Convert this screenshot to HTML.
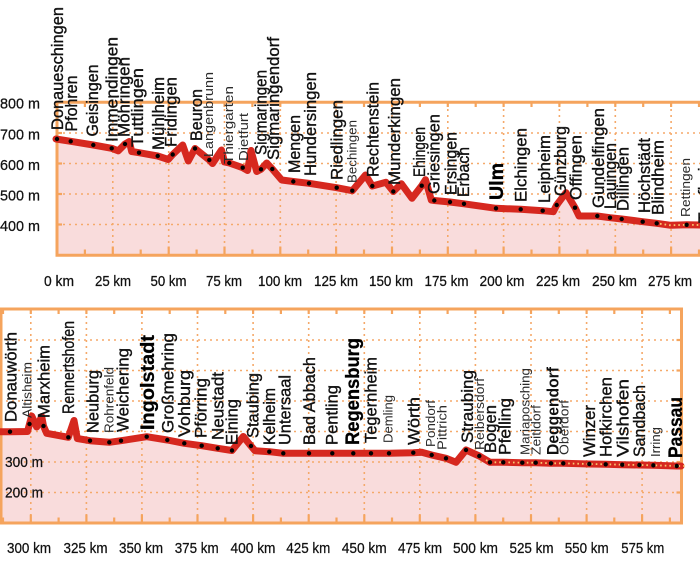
<!DOCTYPE html>
<html><head><meta charset="utf-8">
<style>
html,body{margin:0;padding:0;background:#fff;}
svg{display:block;}
text{font-family:"Liberation Sans",sans-serif;}
.m{font-size:16.5px;fill:#111;stroke:#111;stroke-width:0.35px;}
.s{font-size:13px;fill:#2a2a2a;}
.b{font-size:19px;font-weight:bold;fill:#000;stroke:#000;stroke-width:0.3px;}
.mb{font-size:16.5px;font-weight:bold;fill:#111;}
.ax{font-size:15px;fill:#111;stroke:#111;stroke-width:0.25px;}
.grid{stroke:#f5a96a;stroke-width:1.6;stroke-dasharray:2 4;fill:none;}
.frm{stroke:#f5a45d;stroke-width:3;fill:none;}
.tk{stroke:#f5a45d;stroke-width:2.2;}
.ln{fill:none;stroke:#d6281f;stroke-width:7;stroke-linejoin:round;stroke-linecap:round;}
.yl{fill:none;stroke:#f8c870;stroke-width:1.8;stroke-dasharray:1.6 3;}
</style></head><body>
<svg width="700" height="569" viewBox="0 0 700 569" xmlns="http://www.w3.org/2000/svg">

<!-- ================= TOP PANEL ================= -->
<polygon fill="#f9dcdc" points="57,139 70.7,141.3 93.3,145 111.7,148.3 118.3,150.8 125,144 129.3,141.5 131.7,151.5 139,152.7 157.7,156 168.3,159.5 172.7,154.5 182.7,145 188.3,161 195,148.5 209.3,160 212.5,163.5 221.5,150 224.5,162 229.3,163 242.7,167.7 247.5,170.5 251,150.5 256.7,171.5 261,169.3 266.7,163 272.3,169 281.7,180 293.3,181.5 309,183.3 336.7,187.7 352.3,190.7 365.5,175 372.3,186 386,182.3 393.3,191.5 401.3,183.7 412,198.3 421.7,185.7 425.5,179.7 431.3,200 434.3,200.5 450,202 464,203.8 496,208.3 520.7,209.3 542.7,210.7 553.3,211.7 556.7,205 566,192.7 575,207.7 579,216 597.3,216 610,217.7 621.7,219 642.7,221.7 656.7,223.3 670.7,225.3 686.7,224.8 700,225 700,255 57,255"/>

<g class="grid">
<line x1="57" y1="133" x2="700" y2="133"/>
<line x1="57" y1="163.5" x2="700" y2="163.5"/>
<line x1="57" y1="194" x2="700" y2="194"/>
<line x1="57" y1="224.5" x2="700" y2="224.5"/>
<line x1="112.8" y1="103" x2="112.8" y2="255"/>
<line x1="168.7" y1="103" x2="168.7" y2="255"/>
<line x1="224.5" y1="103" x2="224.5" y2="255"/>
<line x1="280.3" y1="103" x2="280.3" y2="255"/>
<line x1="336.1" y1="103" x2="336.1" y2="255"/>
<line x1="392" y1="103" x2="392" y2="255"/>
<line x1="447.8" y1="103" x2="447.8" y2="255"/>
<line x1="503.6" y1="103" x2="503.6" y2="255"/>
<line x1="559.4" y1="103" x2="559.4" y2="255"/>
<line x1="615.3" y1="103" x2="615.3" y2="255"/>
<line x1="671.1" y1="103" x2="671.1" y2="255"/>
</g>

<path class="frm" d="M700,102.2 H57 V255.3 H700"/>
<g class="tk">
<line x1="84.9" y1="102" x2="84.9" y2="107"/><line x1="112.8" y1="102" x2="112.8" y2="107"/>
<line x1="140.7" y1="102" x2="140.7" y2="107"/><line x1="168.7" y1="102" x2="168.7" y2="107"/>
<line x1="196.6" y1="102" x2="196.6" y2="107"/><line x1="224.5" y1="102" x2="224.5" y2="107"/>
<line x1="252.4" y1="102" x2="252.4" y2="107"/><line x1="280.3" y1="102" x2="280.3" y2="107"/>
<line x1="308.2" y1="102" x2="308.2" y2="107"/><line x1="336.1" y1="102" x2="336.1" y2="107"/>
<line x1="364" y1="102" x2="364" y2="107"/><line x1="392" y1="102" x2="392" y2="107"/>
<line x1="419.9" y1="102" x2="419.9" y2="107"/><line x1="447.8" y1="102" x2="447.8" y2="107"/>
<line x1="475.7" y1="102" x2="475.7" y2="107"/><line x1="503.6" y1="102" x2="503.6" y2="107"/>
<line x1="531.5" y1="102" x2="531.5" y2="107"/><line x1="559.4" y1="102" x2="559.4" y2="107"/>
<line x1="587.4" y1="102" x2="587.4" y2="107"/><line x1="615.3" y1="102" x2="615.3" y2="107"/>
<line x1="643.2" y1="102" x2="643.2" y2="107"/><line x1="671.1" y1="102" x2="671.1" y2="107"/>
<line x1="699" y1="102" x2="699" y2="107"/>

<line x1="84.9" y1="255" x2="84.9" y2="249.5"/><line x1="112.8" y1="255" x2="112.8" y2="246.5"/>
<line x1="140.7" y1="255" x2="140.7" y2="249.5"/><line x1="168.7" y1="255" x2="168.7" y2="246.5"/>
<line x1="196.6" y1="255" x2="196.6" y2="249.5"/><line x1="224.5" y1="255" x2="224.5" y2="246.5"/>
<line x1="252.4" y1="255" x2="252.4" y2="249.5"/><line x1="280.3" y1="255" x2="280.3" y2="246.5"/>
<line x1="308.2" y1="255" x2="308.2" y2="249.5"/><line x1="336.1" y1="255" x2="336.1" y2="246.5"/>
<line x1="364" y1="255" x2="364" y2="249.5"/><line x1="392" y1="255" x2="392" y2="246.5"/>
<line x1="419.9" y1="255" x2="419.9" y2="249.5"/><line x1="447.8" y1="255" x2="447.8" y2="246.5"/>
<line x1="475.7" y1="255" x2="475.7" y2="249.5"/><line x1="503.6" y1="255" x2="503.6" y2="246.5"/>
<line x1="531.5" y1="255" x2="531.5" y2="249.5"/><line x1="559.4" y1="255" x2="559.4" y2="246.5"/>
<line x1="587.4" y1="255" x2="587.4" y2="249.5"/><line x1="615.3" y1="255" x2="615.3" y2="246.5"/>
<line x1="643.2" y1="255" x2="643.2" y2="249.5"/><line x1="671.1" y1="255" x2="671.1" y2="246.5"/>
<line x1="699" y1="255" x2="699" y2="249.5"/>

<line x1="57" y1="133" x2="62" y2="133"/><line x1="57" y1="163.5" x2="62" y2="163.5"/>
<line x1="57" y1="194" x2="62" y2="194"/><line x1="57" y1="224.5" x2="62" y2="224.5"/>
</g>

<polyline class="ln" points="56,139 70.7,141.3 93.3,145 111.7,148.3 118.3,150.8 125,144 129.3,141.5 131.7,151.5 139,152.7 157.7,156 168.3,159.5 172.7,154.5 182.7,145 188.3,161 195,148.5 209.3,160 212.5,163.5 221.5,150 224.5,162 229.3,163 242.7,167.7 247.5,170.5 251,150.5 256.7,171.5 261,169.3 266.7,163 272.3,169 281.7,180 293.3,181.5 309,183.3 336.7,187.7 352.3,190.7 365.5,175 372.3,186 386,182.3 393.3,191.5 401.3,183.7 412,198.3 421.7,185.7 425.5,179.7 431.3,200 434.3,200.5 450,202 464,203.8 496,208.3 520.7,209.3 542.7,210.7 553.3,211.7 556.7,205 566,192.7 575,207.7 579,216 597.3,216 610,217.7 621.7,219 642.7,221.7 656.7,223.3 670.7,225.3 686.7,224.8 702,225"/>
<polyline class="yl" points="660,223.8 670.7,225.3 686.7,224.8 700,225"/>

<g fill="#000">
<circle cx="57" cy="139" r="2.2"/><circle cx="70.7" cy="141.3" r="2.2"/><circle cx="93.3" cy="145" r="2.2"/>
<circle cx="111.7" cy="148.3" r="2.2"/><circle cx="125" cy="144" r="2.2"/><circle cx="139" cy="152.7" r="2.2"/>
<circle cx="157.7" cy="156" r="2.2"/><circle cx="172.7" cy="154.5" r="2.2"/><circle cx="195" cy="148.5" r="2.2"/>
<circle cx="209.3" cy="160" r="2.2"/><circle cx="229.3" cy="163" r="2.2"/><circle cx="242.7" cy="167.7" r="2.2"/>
<circle cx="261" cy="169.3" r="2.2"/><circle cx="272.3" cy="169" r="2.2"/><circle cx="293.3" cy="181.5" r="2.2"/>
<circle cx="309" cy="183.3" r="2.2"/><circle cx="336.7" cy="187.7" r="2.2"/><circle cx="352.3" cy="190.7" r="2.2"/>
<circle cx="372.3" cy="186" r="2.2"/><circle cx="393.3" cy="191.5" r="2.2"/><circle cx="421.7" cy="185.7" r="2.2"/>
<circle cx="434.3" cy="200.5" r="2.2"/><circle cx="450" cy="202" r="2.2"/><circle cx="464" cy="203.8" r="2.2"/>
<circle cx="496" cy="208.3" r="2.2"/><circle cx="520.7" cy="209.3" r="2.2"/><circle cx="542.7" cy="210.7" r="2.2"/>
<circle cx="556.7" cy="205" r="2.2"/><circle cx="575" cy="207.7" r="2.2"/><circle cx="597.3" cy="216" r="2.2"/>
<circle cx="610" cy="217.7" r="2.2"/><circle cx="621.7" cy="219" r="2.2"/><circle cx="642.7" cy="221.7" r="2.2"/>
<circle cx="656.7" cy="223.3" r="2.2"/><circle cx="686.7" cy="224.8" r="2.2"/>
</g>

<text class="ax" x="0" y="108.5" textLength="40" lengthAdjust="spacingAndGlyphs">800 m</text>
<text class="ax" x="0" y="139.3" textLength="40" lengthAdjust="spacingAndGlyphs">700 m</text>
<text class="ax" x="0" y="170" textLength="40" lengthAdjust="spacingAndGlyphs">600 m</text>
<text class="ax" x="0" y="200.5" textLength="40" lengthAdjust="spacingAndGlyphs">500 m</text>
<text class="ax" x="0" y="231" textLength="40" lengthAdjust="spacingAndGlyphs">400 m</text>

<g text-anchor="middle">
<text class="ax" x="59" y="286" textLength="30" lengthAdjust="spacingAndGlyphs">0 km</text>
<text class="ax" x="113" y="286" textLength="36" lengthAdjust="spacingAndGlyphs">25 km</text>
<text class="ax" x="168.5" y="286" textLength="36" lengthAdjust="spacingAndGlyphs">50 km</text>
<text class="ax" x="224" y="286" textLength="36" lengthAdjust="spacingAndGlyphs">75 km</text>
<text class="ax" x="280" y="286" textLength="44" lengthAdjust="spacingAndGlyphs">100 km</text>
<text class="ax" x="336" y="286" textLength="44" lengthAdjust="spacingAndGlyphs">125 km</text>
<text class="ax" x="391" y="286" textLength="44" lengthAdjust="spacingAndGlyphs">150 km</text>
<text class="ax" x="446.5" y="286" textLength="44" lengthAdjust="spacingAndGlyphs">175 km</text>
<text class="ax" x="502" y="286" textLength="45" lengthAdjust="spacingAndGlyphs">200 km</text>
<text class="ax" x="558" y="286" textLength="44" lengthAdjust="spacingAndGlyphs">225 km</text>
<text class="ax" x="614.5" y="286" textLength="45" lengthAdjust="spacingAndGlyphs">250 km</text>
<text class="ax" x="670" y="286" textLength="44" lengthAdjust="spacingAndGlyphs">275 km</text>
</g>

<text class="m" transform="translate(63,130) rotate(-90)" textLength="123" lengthAdjust="spacingAndGlyphs">Donaueschingen</text>
<text class="m" transform="translate(77,131.5) rotate(-90)" textLength="56" lengthAdjust="spacingAndGlyphs">Pfohren</text>
<text class="m" transform="translate(98,136.5) rotate(-90)" textLength="72" lengthAdjust="spacingAndGlyphs">Geisingen</text>
<text class="m" transform="translate(117.5,142) rotate(-90)" textLength="105" lengthAdjust="spacingAndGlyphs">Immendingen</text>
<text class="m" transform="translate(129.5,137) rotate(-90)" textLength="80" lengthAdjust="spacingAndGlyphs">Möhringen</text>
<text class="m" transform="translate(143,147) rotate(-90)" textLength="79" lengthAdjust="spacingAndGlyphs">Tuttlingen</text>
<text class="m" transform="translate(164,150) rotate(-90)" textLength="73" lengthAdjust="spacingAndGlyphs">Mühlheim</text>
<text class="m" transform="translate(176.5,147) rotate(-90)" textLength="70" lengthAdjust="spacingAndGlyphs">Fridingen</text>
<text class="m" transform="translate(202,141) rotate(-90)" textLength="52" lengthAdjust="spacingAndGlyphs">Beuron</text>
<text class="s" transform="translate(213,157) rotate(-90)" textLength="85" lengthAdjust="spacingAndGlyphs">Langenbrunn</text>
<text class="s" transform="translate(233,164) rotate(-90)" textLength="78" lengthAdjust="spacingAndGlyphs">Thiergarten</text>
<text class="s" transform="translate(248,161) rotate(-90)" textLength="48" lengthAdjust="spacingAndGlyphs">Dietfurt</text>
<text class="m" transform="translate(266.5,155) rotate(-90)" textLength="85" lengthAdjust="spacingAndGlyphs">Sigmaringen</text>
<text class="m" transform="translate(279,160) rotate(-90)" textLength="123" lengthAdjust="spacingAndGlyphs">Sigmaringendorf</text>
<text class="m" transform="translate(300,173) rotate(-90)" textLength="58" lengthAdjust="spacingAndGlyphs">Mengen</text>
<text class="m" transform="translate(316,176) rotate(-90)" textLength="104" lengthAdjust="spacingAndGlyphs">Hundersingen</text>
<text class="m" transform="translate(342.5,180) rotate(-90)" textLength="80" lengthAdjust="spacingAndGlyphs">Riedlingen</text>
<text class="s" transform="translate(356.5,183) rotate(-90)" textLength="63" lengthAdjust="spacingAndGlyphs">Bechingen</text>
<text class="m" transform="translate(378.3,177) rotate(-90)" textLength="95" lengthAdjust="spacingAndGlyphs">Rechtenstein</text>
<text class="m" transform="translate(400,185) rotate(-90)" textLength="107" lengthAdjust="spacingAndGlyphs">Munderkingen</text>
<text class="m" transform="translate(425,177) rotate(-90)" textLength="50" lengthAdjust="spacingAndGlyphs">Ehingen</text>
<text class="m" transform="translate(439.3,194) rotate(-90)" textLength="80" lengthAdjust="spacingAndGlyphs">Griesingen</text>
<text class="m" transform="translate(456.7,195) rotate(-90)" textLength="63" lengthAdjust="spacingAndGlyphs">Ersingen</text>
<text class="m" transform="translate(469,197) rotate(-90)" textLength="50" lengthAdjust="spacingAndGlyphs">Erbach</text>
<text class="b" transform="translate(503,200) rotate(-90)" textLength="37" lengthAdjust="spacingAndGlyphs">Ulm</text>
<text class="m" transform="translate(526.7,202) rotate(-90)" textLength="74" lengthAdjust="spacingAndGlyphs">Elchingen</text>
<text class="m" transform="translate(550,203) rotate(-90)" textLength="68" lengthAdjust="spacingAndGlyphs">Leipheim</text>
<text class="m" transform="translate(566,196) rotate(-90)" textLength="70" lengthAdjust="spacingAndGlyphs">Günzburg</text>
<text class="m" transform="translate(581.7,200) rotate(-90)" textLength="65" lengthAdjust="spacingAndGlyphs">Offingen</text>
<text class="m" transform="translate(604,208) rotate(-90)" textLength="100" lengthAdjust="spacingAndGlyphs">Gundelfingen</text>
<text class="m" transform="translate(616,209) rotate(-90)" textLength="66" lengthAdjust="spacingAndGlyphs">Lauingen</text>
<text class="m" transform="translate(628.3,211) rotate(-90)" textLength="64" lengthAdjust="spacingAndGlyphs">Dillingen</text>
<text class="m" transform="translate(650,213) rotate(-90)" textLength="75" lengthAdjust="spacingAndGlyphs">Höchstädt</text>
<text class="m" transform="translate(663.3,215) rotate(-90)" textLength="75" lengthAdjust="spacingAndGlyphs">Blindheim</text>
<text class="s" transform="translate(690,217) rotate(-90)" textLength="59" lengthAdjust="spacingAndGlyphs">Rettingen</text>
<text class="m" transform="translate(710,223) rotate(-90)" textLength="70" lengthAdjust="spacingAndGlyphs">Tapfheim</text>

<!-- ================= BOTTOM PANEL ================= -->
<polygon fill="#f9dcdc" points="0,431.7 10,431.7 27.5,431.5 29.5,424 31.7,416 36.7,427 41.7,416.5 43.5,426 46.7,433.3 68.3,437.3 74,420.5 77.3,438.5 90,440.7 109.3,442.3 121,440.7 146.7,436.7 167.3,440 184.3,443.3 201.7,445.7 217.7,448.3 232,450.5 243.3,436.5 251,446 255,450.7 269.3,451.7 283.3,453.3 309,453.3 332.3,453.3 353.3,453.3 371,453.3 389,453.3 413.3,452.7 421.7,452.3 431.7,455 446,458.3 456,462.3 466,450 479.3,456 490,462.3 503.3,462.3 522.3,462.7 535.7,462.7 551,463.3 563.3,463.3 589.3,464 605.7,464.3 622.3,464.7 639.3,465 653.3,465.3 676.7,466 681.5,466 681.5,523 0,523"/>

<g class="grid">
<line x1="0" y1="340" x2="681.5" y2="340"/>
<line x1="0" y1="370.5" x2="681.5" y2="370.5"/>
<line x1="0" y1="401" x2="681.5" y2="401"/>
<line x1="0" y1="431.5" x2="681.5" y2="431.5"/>
<line x1="0" y1="462" x2="681.5" y2="462"/>
<line x1="0" y1="492.5" x2="681.5" y2="492.5"/>
<line x1="30.8" y1="310" x2="30.8" y2="523"/>
<line x1="86.4" y1="310" x2="86.4" y2="523"/>
<line x1="141.9" y1="310" x2="141.9" y2="523"/>
<line x1="197.5" y1="310" x2="197.5" y2="523"/>
<line x1="253.1" y1="310" x2="253.1" y2="523"/>
<line x1="308.7" y1="310" x2="308.7" y2="523"/>
<line x1="364.3" y1="310" x2="364.3" y2="523"/>
<line x1="419.8" y1="310" x2="419.8" y2="523"/>
<line x1="475.4" y1="310" x2="475.4" y2="523"/>
<line x1="531" y1="310" x2="531" y2="523"/>
<line x1="586.6" y1="310" x2="586.6" y2="523"/>
<line x1="642.1" y1="310" x2="642.1" y2="523"/>
</g>

<path class="frm" d="M1,309 H681.5 V523 H1 Z"/>
<g class="tk">
<line x1="3" y1="309" x2="3" y2="314"/><line x1="30.8" y1="309" x2="30.8" y2="314"/>
<line x1="58.6" y1="309" x2="58.6" y2="314"/><line x1="86.4" y1="309" x2="86.4" y2="314"/>
<line x1="114.2" y1="309" x2="114.2" y2="314"/><line x1="141.9" y1="309" x2="141.9" y2="314"/>
<line x1="169.7" y1="309" x2="169.7" y2="314"/><line x1="197.5" y1="309" x2="197.5" y2="314"/>
<line x1="225.3" y1="309" x2="225.3" y2="314"/><line x1="253.1" y1="309" x2="253.1" y2="314"/>
<line x1="280.9" y1="309" x2="280.9" y2="314"/><line x1="308.7" y1="309" x2="308.7" y2="314"/>
<line x1="336.5" y1="309" x2="336.5" y2="314"/><line x1="364.3" y1="309" x2="364.3" y2="314"/>
<line x1="392" y1="309" x2="392" y2="314"/><line x1="419.8" y1="309" x2="419.8" y2="314"/>
<line x1="447.6" y1="309" x2="447.6" y2="314"/><line x1="475.4" y1="309" x2="475.4" y2="314"/>
<line x1="503.2" y1="309" x2="503.2" y2="314"/><line x1="531" y1="309" x2="531" y2="314"/>
<line x1="558.8" y1="309" x2="558.8" y2="314"/><line x1="586.6" y1="309" x2="586.6" y2="314"/>
<line x1="614.3" y1="309" x2="614.3" y2="314"/><line x1="642.1" y1="309" x2="642.1" y2="314"/>
<line x1="669.9" y1="309" x2="669.9" y2="314"/>

<line x1="3" y1="523" x2="3" y2="517.5"/>
<line x1="30.8" y1="523" x2="30.8" y2="514.5"/><line x1="58.6" y1="523" x2="58.6" y2="517.5"/>
<line x1="86.4" y1="523" x2="86.4" y2="514.5"/><line x1="114.2" y1="523" x2="114.2" y2="517.5"/>
<line x1="141.9" y1="523" x2="141.9" y2="514.5"/><line x1="169.7" y1="523" x2="169.7" y2="517.5"/>
<line x1="197.5" y1="523" x2="197.5" y2="514.5"/><line x1="225.3" y1="523" x2="225.3" y2="517.5"/>
<line x1="253.1" y1="523" x2="253.1" y2="514.5"/><line x1="280.9" y1="523" x2="280.9" y2="517.5"/>
<line x1="308.7" y1="523" x2="308.7" y2="514.5"/><line x1="336.5" y1="523" x2="336.5" y2="517.5"/>
<line x1="364.3" y1="523" x2="364.3" y2="514.5"/><line x1="392" y1="523" x2="392" y2="517.5"/>
<line x1="419.8" y1="523" x2="419.8" y2="514.5"/><line x1="447.6" y1="523" x2="447.6" y2="517.5"/>
<line x1="475.4" y1="523" x2="475.4" y2="514.5"/><line x1="503.2" y1="523" x2="503.2" y2="517.5"/>
<line x1="531" y1="523" x2="531" y2="514.5"/><line x1="558.8" y1="523" x2="558.8" y2="517.5"/>
<line x1="586.6" y1="523" x2="586.6" y2="514.5"/><line x1="614.3" y1="523" x2="614.3" y2="517.5"/>
<line x1="642.1" y1="523" x2="642.1" y2="514.5"/><line x1="669.9" y1="523" x2="669.9" y2="517.5"/>

<line x1="681.5" y1="340" x2="676.5" y2="340"/><line x1="681.5" y1="370.5" x2="676.5" y2="370.5"/>
<line x1="681.5" y1="401" x2="676.5" y2="401"/><line x1="681.5" y1="431.5" x2="676.5" y2="431.5"/>
<line x1="681.5" y1="462" x2="676.5" y2="462"/><line x1="681.5" y1="492.5" x2="676.5" y2="492.5"/>
</g>

<polyline class="ln" points="-2,431.7 10,431.7 27.5,431.5 29.5,424 31.7,416 36.7,427 41.7,416.5 43.5,426 46.7,433.3 68.3,437.3 74,420.5 77.3,438.5 90,440.7 109.3,442.3 121,440.7 146.7,436.7 167.3,440 184.3,443.3 201.7,445.7 217.7,448.3 232,450.5 243.3,436.5 251,446 255,450.7 269.3,451.7 283.3,453.3 309,453.3 332.3,453.3 353.3,453.3 371,453.3 389,453.3 413.3,452.7 421.7,452.3 431.7,455 446,458.3 456,462.3 466,450 479.3,456 490,462.3 503.3,462.3 522.3,462.7 535.7,462.7 551,463.3 563.3,463.3 589.3,464 605.7,464.3 622.3,464.7 639.3,465 653.3,465.3 676.7,466 681,466"/>
<polyline class="yl" points="486,460 490,462.3 503.3,462.3 522.3,462.7 535.7,462.7 551,463.3 563.3,463.3 589.3,464 605.7,464.3 622.3,464.7 639.3,465 653.3,465.3 676.7,466 686,466"/>

<g fill="#000">
<circle cx="10" cy="431.7" r="2.2"/><circle cx="29.5" cy="424" r="2.2"/><circle cx="43.5" cy="426" r="2.2"/>
<circle cx="68.3" cy="437.3" r="2.2"/><circle cx="90" cy="440.7" r="2.2"/><circle cx="109.3" cy="442.3" r="2.2"/>
<circle cx="121" cy="440.7" r="2.2"/><circle cx="146.7" cy="436.7" r="2.2"/><circle cx="167.3" cy="440" r="2.2"/>
<circle cx="184.3" cy="443.3" r="2.2"/><circle cx="201.7" cy="445.7" r="2.2"/><circle cx="217.7" cy="448.3" r="2.2"/>
<circle cx="232" cy="450.5" r="2.2"/><circle cx="251" cy="446" r="2.2"/><circle cx="269.3" cy="451.7" r="2.2"/>
<circle cx="283.3" cy="453.3" r="2.2"/><circle cx="309" cy="453.3" r="2.2"/><circle cx="332.3" cy="453.3" r="2.2"/>
<circle cx="353.3" cy="453.3" r="2.2"/><circle cx="371" cy="453.3" r="2.2"/><circle cx="389" cy="453.3" r="2.2"/>
<circle cx="413.3" cy="452.7" r="2.2"/><circle cx="431.7" cy="455" r="2.2"/><circle cx="446" cy="458.3" r="2.2"/>
<circle cx="466" cy="450" r="2.2"/><circle cx="479.3" cy="456" r="2.2"/><circle cx="490" cy="462.3" r="2.2"/>
<circle cx="503.3" cy="462.3" r="2.2"/><circle cx="522.3" cy="462.7" r="2.2"/><circle cx="535.7" cy="462.7" r="2.2"/>
<circle cx="551" cy="463.3" r="2.2"/><circle cx="563.3" cy="463.3" r="2.2"/><circle cx="589.3" cy="464" r="2.2"/>
<circle cx="605.7" cy="464.3" r="2.2"/><circle cx="622.3" cy="464.7" r="2.2"/><circle cx="639.3" cy="465" r="2.2"/>
<circle cx="653.3" cy="465.3" r="2.2"/><circle cx="676.7" cy="466" r="2.2"/>
</g>

<text class="ax" x="5" y="467" textLength="38" lengthAdjust="spacingAndGlyphs">300 m</text>
<text class="ax" x="5" y="497.5" textLength="38" lengthAdjust="spacingAndGlyphs">200 m</text>

<g text-anchor="middle">
<text class="ax" x="29" y="553" textLength="44" lengthAdjust="spacingAndGlyphs">300 km</text>
<text class="ax" x="85.5" y="553" textLength="44" lengthAdjust="spacingAndGlyphs">325 km</text>
<text class="ax" x="141" y="553" textLength="44" lengthAdjust="spacingAndGlyphs">350 km</text>
<text class="ax" x="196.7" y="553" textLength="44" lengthAdjust="spacingAndGlyphs">375 km</text>
<text class="ax" x="253" y="553" textLength="45" lengthAdjust="spacingAndGlyphs">400 km</text>
<text class="ax" x="308.3" y="553" textLength="44" lengthAdjust="spacingAndGlyphs">425 km</text>
<text class="ax" x="364.2" y="553" textLength="45" lengthAdjust="spacingAndGlyphs">450 km</text>
<text class="ax" x="420" y="553" textLength="44" lengthAdjust="spacingAndGlyphs">475 km</text>
<text class="ax" x="475.5" y="553" textLength="45" lengthAdjust="spacingAndGlyphs">500 km</text>
<text class="ax" x="531.5" y="553" textLength="44" lengthAdjust="spacingAndGlyphs">525 km</text>
<text class="ax" x="586.7" y="553" textLength="44" lengthAdjust="spacingAndGlyphs">550 km</text>
<text class="ax" x="642.8" y="553" textLength="43" lengthAdjust="spacingAndGlyphs">575 km</text>
</g>

<text class="m" transform="translate(16.7,422) rotate(-90)" textLength="90" lengthAdjust="spacingAndGlyphs">Donauwörth</text>
<text class="s" transform="translate(31.5,418) rotate(-90)" textLength="56" lengthAdjust="spacingAndGlyphs">Altisheim</text>
<text class="m" transform="translate(49.3,418) rotate(-90)" textLength="73" lengthAdjust="spacingAndGlyphs">Marxheim</text>
<text class="m" transform="translate(74,414) rotate(-90)" textLength="93" lengthAdjust="spacingAndGlyphs">Rennertshofen</text>
<text class="m" transform="translate(98.3,433) rotate(-90)" textLength="63" lengthAdjust="spacingAndGlyphs">Neuburg</text>
<text class="s" transform="translate(113.3,433) rotate(-90)" textLength="66" lengthAdjust="spacingAndGlyphs">Rohrenfeld</text>
<text class="m" transform="translate(128.3,432) rotate(-90)" textLength="84" lengthAdjust="spacingAndGlyphs">Weichering</text>
<text class="b" transform="translate(154,430) rotate(-90)" textLength="95" lengthAdjust="spacingAndGlyphs">Ingolstadt</text>
<text class="m" transform="translate(173.3,433) rotate(-90)" textLength="100" lengthAdjust="spacingAndGlyphs">Großmehring</text>
<text class="m" transform="translate(190,437) rotate(-90)" textLength="67" lengthAdjust="spacingAndGlyphs">Vohburg</text>
<text class="m" transform="translate(206.7,438) rotate(-90)" textLength="60" lengthAdjust="spacingAndGlyphs">Pförring</text>
<text class="m" transform="translate(223.3,440) rotate(-90)" textLength="68" lengthAdjust="spacingAndGlyphs">Neustadt</text>
<text class="m" transform="translate(237.5,445) rotate(-90)" textLength="46" lengthAdjust="spacingAndGlyphs">Eining</text>
<text class="m" transform="translate(258.5,438) rotate(-90)" textLength="65" lengthAdjust="spacingAndGlyphs">Staubing</text>
<text class="m" transform="translate(275,445) rotate(-90)" textLength="57" lengthAdjust="spacingAndGlyphs">Kelheim</text>
<text class="m" transform="translate(290.7,445) rotate(-90)" textLength="70" lengthAdjust="spacingAndGlyphs">Untersaal</text>
<text class="m" transform="translate(315,445) rotate(-90)" textLength="88" lengthAdjust="spacingAndGlyphs">Bad Abbach</text>
<text class="m" transform="translate(337.3,445) rotate(-90)" textLength="60" lengthAdjust="spacingAndGlyphs">Pentling</text>
<text class="b" transform="translate(359,445) rotate(-90)" textLength="107" lengthAdjust="spacingAndGlyphs">Regensburg</text>
<text class="m" transform="translate(376.7,443) rotate(-90)" textLength="86" lengthAdjust="spacingAndGlyphs">Tegernheim</text>
<text class="s" transform="translate(392.7,443) rotate(-90)" textLength="48" lengthAdjust="spacingAndGlyphs">Demling</text>
<text class="m" transform="translate(419.3,445) rotate(-90)" textLength="48" lengthAdjust="spacingAndGlyphs">Wörth</text>
<text class="s" transform="translate(435,447) rotate(-90)" textLength="47" lengthAdjust="spacingAndGlyphs">Pondorf</text>
<text class="s" transform="translate(446.7,450) rotate(-90)" textLength="45" lengthAdjust="spacingAndGlyphs">Pittrich</text>
<text class="m" transform="translate(473,443) rotate(-90)" textLength="73" lengthAdjust="spacingAndGlyphs">Straubing</text>
<text class="s" transform="translate(484,450) rotate(-90)" textLength="72" lengthAdjust="spacingAndGlyphs">Reibersdorf</text>
<text class="m" transform="translate(496,453) rotate(-90)" textLength="48" lengthAdjust="spacingAndGlyphs">Bogen</text>
<text class="m" transform="translate(510.7,455) rotate(-90)" textLength="57" lengthAdjust="spacingAndGlyphs">Pfelling</text>
<text class="s" transform="translate(529.3,455) rotate(-90)" textLength="87" lengthAdjust="spacingAndGlyphs">Mariaposching</text>
<text class="s" transform="translate(540.7,455) rotate(-90)" textLength="50" lengthAdjust="spacingAndGlyphs">Zeitldorf</text>
<text class="mb" transform="translate(558.3,455) rotate(-90)" textLength="88" lengthAdjust="spacingAndGlyphs">Deggendorf</text>
<text class="s" transform="translate(568.3,455) rotate(-90)" textLength="55" lengthAdjust="spacingAndGlyphs">Oberdorf</text>
<text class="m" transform="translate(595,457) rotate(-90)" textLength="52" lengthAdjust="spacingAndGlyphs">Winzer</text>
<text class="m" transform="translate(611.7,457) rotate(-90)" textLength="80" lengthAdjust="spacingAndGlyphs">Hofkirchen</text>
<text class="m" transform="translate(628.3,457) rotate(-90)" textLength="78" lengthAdjust="spacingAndGlyphs">Vilshofen</text>
<text class="m" transform="translate(645,457) rotate(-90)" textLength="72" lengthAdjust="spacingAndGlyphs">Sandbach</text>
<text class="s" transform="translate(660,457) rotate(-90)" textLength="30" lengthAdjust="spacingAndGlyphs">Irring</text>
<text class="b" transform="translate(682,458) rotate(-90)" textLength="61" lengthAdjust="spacingAndGlyphs">Passau</text>

</svg>
</body></html>
